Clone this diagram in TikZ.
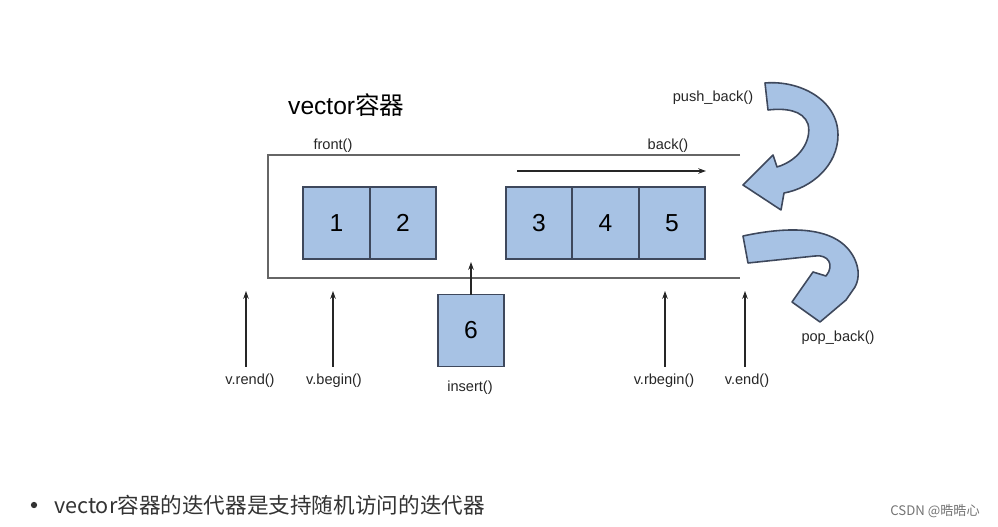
\documentclass[tikz,border=0pt]{standalone}
\usepackage{fontspec}
\setmainfont{Liberation Sans}
\newfontfamily\cjk{Noto Sans CJK SC}
\usetikzlibrary{arrows.meta, positioning}
\definecolor{cellfill}{RGB}{167,194,228}
\definecolor{celledge}{RGB}{62,72,92}

\begin{document}
\begin{tikzpicture}[x=0.02cm, y=-0.02cm,
        cell/.style={rectangle, draw=celledge, line width=0.9pt, fill=cellfill, outer sep=0pt,
                     inner sep=0pt, minimum width=1.33cm, minimum height=1.44cm,
                     font=\fontsize{14}{16}\selectfont},
        lbl/.style={font=\fontsize{8.3}{10}\selectfont, inner sep=1pt, text=black!85},
        ptr/.style={-{Stealth[length=4.5pt,width=3.2pt]}, line width=0.6pt, draw=black!85},
        wall/.style={line width=1pt, draw=black!60},
        turnarrow/.style={fill=cellfill, draw=celledge, line width=0.9pt, line join=round}
    ]
    \useasboundingbox (0,0) rectangle (998,527);

    % title
    \node[anchor=west, font=\fontsize{14}{16}\selectfont] (title) at (282,105) {vector{\cjk 容器}};

    % container walls
    \coordinate (wallTR) at (740,155);
    \coordinate (wallTL) at (268,155);
    \coordinate (wallBL) at (268,278);
    \coordinate (wallBR) at (740,278);
    \draw[wall] (wallTR) -- (wallTL) -- (wallBL) -- (wallBR);
    \node[lbl] (front) at (333,146) {front()};
    \node[lbl] (back)  at (668,146) {back()};

    % elements
    \node[cell] (c1) at (336.5,223) {1};
    \node[cell, right=0pt of c1] (c2) {2};
    \node[cell] (c3) at (539,223) {3};
    \node[cell, right=0pt of c3] (c4) {4};
    \node[cell, right=0pt of c4] (c5) {5};
    \node[cell] (c6) at (471,330.5) {6};

    % direction and insert
    \coordinate (runA) at (517,171);
    \coordinate (runB) at (706,171);
    \draw[ptr] (runA) -- (runB);
    \coordinate (gap) at (471,262);
    \draw[ptr] (c6.north) -- (gap);
    \node[lbl] (ins) at (470,388) {insert()};

    % iterators
    \node[lbl] (rend)   at (250,381) {v.rend()};
    \node[lbl] (begin)  at (334,381) {v.begin()};
    \node[lbl] (rbegin) at (664,381) {v.rbegin()};
    \node[lbl] (vend)   at (747,381) {v.end()};
    \coordinate (pRend)   at (246,291);
    \coordinate (pBegin)  at (333,291);
    \coordinate (pRbegin) at (665,291);
    \coordinate (pEnd)    at (745,291);
    \draw[ptr, shorten <=3pt] (pRend |- rend.north) -- (pRend);
    \draw[ptr, shorten <=3pt] (pBegin |- begin.north) -- (pBegin);
    \draw[ptr, shorten <=3pt] (pRbegin |- rbegin.north) -- (pRbegin);
    \draw[ptr, shorten <=3pt] (pEnd |- vend.north) -- (pEnd);

    % push_back / pop_back
    \node[lbl] (push) at (713,98) {push\_back()};
    \draw[turnarrow] (765,83) .. controls (800,80) and (838,100) .. (838,135)
        .. controls (838,165) and (812,188) .. (784,193) -- (781,210) -- (743,185)
        -- (773,155) -- (777,167) .. controls (800,160) and (812,140) .. (808,124)
        .. controls (803,110) and (785,108) .. (768,110) -- cycle;
    \node[lbl] (pop) at (838,338) {pop\_back()};
    \draw[turnarrow] (743,236) .. controls (780,228) and (828,224) .. (849,250)
        .. controls (860,264) and (860,278) .. (855,287) -- (846,300) -- (820,322)
        -- (792,302) -- (813,272) -- (826,276) .. controls (835,265) and (828,254) .. (815,256)
        -- (748,263) -- cycle;

    % note
    \fill[black!80] (34,505) circle (1.8pt);
    \node[anchor=west, font=\cjk\fontsize{12.3}{14}\selectfont, text=black!80] (note) at (48,505)
        {vector容器的迭代器是支持随机访问的迭代器};
    \node[anchor=east, font=\cjk\fontsize{7.5}{9}\selectfont, text=black!55] (mark) at (986,511)
        {CSDN @晧晧心};
\end{tikzpicture}
\end{document}
